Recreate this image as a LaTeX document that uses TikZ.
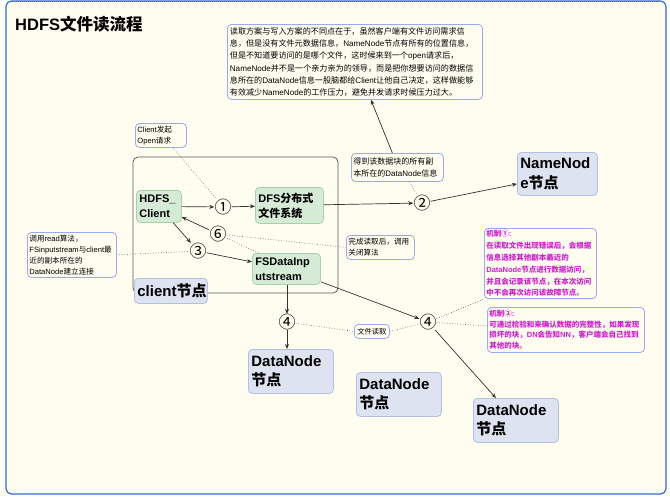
\documentclass[tikz,border=0pt]{standalone}
\usepackage{fontspec}
\setmainfont{Liberation Sans}
\newfontfamily\cjkf{Noto Sans CJK SC}
\newfontfamily\latf{Liberation Sans}
\usetikzlibrary{arrows.meta}
\XeTeXinterchartokenstate=1
\newXeTeXintercharclass\CJKcls
\newcount\cjkcnt
\def\setcjkrange#1#2{\cjkcnt=#1\relax\loop\XeTeXcharclass\cjkcnt=\CJKcls\advance\cjkcnt by 1\relax\ifnum\cjkcnt<#2\relax\repeat}
\setcjkrange{"4E00}{"A000}
\setcjkrange{"3000}{"3040}
\setcjkrange{"FF00}{"FFF0}
\setcjkrange{"2460}{"2500}
\XeTeXinterchartoks 0 \CJKcls = {\cjkf}
\XeTeXinterchartoks 4095 \CJKcls = {\cjkf}
\XeTeXinterchartoks \CJKcls 0 = {\latf}
\XeTeXinterchartoks 4095 0 = {\latf}
\definecolor{bg}{HTML}{FFFDF0}
\definecolor{cmtb}{HTML}{9AA9F2}
\definecolor{grnf}{HTML}{D5EBD6}
\definecolor{grnb}{HTML}{A3D3A6}
\definecolor{bluf}{HTML}{DEE3F1}
\definecolor{blub}{HTML}{B3C0E3}
\definecolor{framec}{HTML}{5A5A5A}
\definecolor{lineg}{HTML}{333333}
\definecolor{dotg}{HTML}{555555}
\definecolor{mag}{HTML}{D21ED2}
\definecolor{outerb}{HTML}{2E6FDB}
\tikzset{
 cmt/.style={draw=cmtb, fill=bg, rounded corners=4pt, line width=0.8pt, inner sep=2pt, align=left, anchor=north west, font=\fontsize{7.6}{10.8}\selectfont},
 grn/.style={draw=grnb, fill=grnf, rounded corners=4pt, line width=0.8pt, inner sep=3pt, align=left, anchor=north west, font=\bfseries\fontsize{11}{15}\selectfont},
 blu/.style={draw=blub, fill=bluf, rounded corners=4pt, line width=0.8pt, inner sep=3pt, align=left, anchor=north west, font=\bfseries\fontsize{15}{19.5}\selectfont},
 num/.style={inner sep=0pt, font=\fontsize{17}{17}\selectfont},
 arr/.style={draw=lineg, line width=0.7pt, -{Stealth[length=5pt,width=4pt]}},
 dotl/.style={draw=dotg, line width=0.6pt, dotted},
}
\begin{document}
\begin{tikzpicture}[x=1pt,y=-1pt]
\useasboundingbox (0,0) rectangle (670,496);
\fill[white] (0,0) rectangle (670,496);
\draw[outerb, line width=1.2pt, fill=bg, rounded corners=6pt] (6,1) rectangle (666,494);
\draw[dotg, line width=1pt, densely dotted] (12,1) -- (660,1);
\node[anchor=base west, font=\bfseries\fontsize{16.5}{18}\selectfont, inner sep=0pt] (title) at (15,30) {HDFS文件读流程};
% client frame
\draw[framec, line width=0.8pt, rounded corners=5pt] (133,157) rectangle (338,293);
% comment boxes
\node[cmt, minimum width=255pt, minimum height=75pt, text width=250pt, font=\fontsize{8.1}{12.3}\selectfont] (top) at (227,24) {读取方案与写入方案的不同点在于，虽然客户端有文件访问需求信\\息，但是没有文件元数据信息，NameNode节点有所有的位置信息，\\但是不知道要访问的是哪个文件，这时候来到一个open请求后，\\NameNode并不是一个亲力亲为的领导，而是把你想要访问的数据信\\息所在的DataNode信息一股脑都给Client让他自己决定，这样做能够\\有效减少NameNode的工作压力，避免并发请求时候压力过大。};
\node[cmt, minimum width=51pt, minimum height=24pt, text width=47pt] (clientc) at (135,123) {Client发起\\Open请求};
\node[cmt, minimum width=92pt, minimum height=28pt, text width=88pt, font=\fontsize{8}{12}\selectfont] (dedao) at (351,153) {得到该数据块的所有副\\本所在的DataNode信息};
\node[cmt, minimum width=68pt, minimum height=24pt, text width=64pt] (wancheng) at (346,235) {完成读取后，调用\\关闭算法};
\node[cmt, minimum width=89pt, minimum height=45pt, text width=85pt] (diaoyong) at (27,232) {调用read算法，\\FSinputstream与client最\\近的副本所在的\\DataNode建立连接};
\node[cmt, minimum width=112pt, minimum height=66pt, text width=108pt, text=mag, font=\bfseries\fontsize{7.5}{11.8}\selectfont] (jz1) at (484,228) {机制①:\\在读取文件出现错误后，会根据\\信息选择其他副本最近的\\DataNode节点进行数据访问，\\并且会记录该节点，在本次访问\\中不会再次访问该故障节点。};
\node[cmt, minimum width=157pt, minimum height=45pt, text width=153pt, text=mag, font=\bfseries\fontsize{7.5}{10.5}\selectfont] (jz2) at (487,307) {机制②:\\可通过检验和来确认数据的完整性，如果发现\\损坏的块，DN会告知NN，客户端会自己找到\\其他的块。};
\node[cmt, minimum width=35pt, minimum height=14pt, align=center, inner sep=1pt, font=\fontsize{7.3}{9}\selectfont] (wjdq) at (354,324) {文件读取};
% green boxes
\node[grn, minimum width=45pt, minimum height=32pt, text width=39pt] (hdfs) at (136,190) {HDFS\_\\Client};
\node[grn, minimum width=68pt, minimum height=36pt, text width=62pt] (dfs) at (255,187) {DFS分布式\\文件系统};
\node[grn, minimum width=68pt, minimum height=31pt, text width=62pt] (fsd) at (252,253) {FSDataInp\\utstream};
% blue boxes
\node[blu, minimum width=80pt, minimum height=43pt, text width=74pt] (nn) at (517,152) {NameNod\\e节点};
\node[blu, minimum width=73pt, minimum height=25pt, text width=67pt, inner sep=2pt] (cnode) at (134,278) {client节点};
\node[blu, minimum width=85pt, minimum height=44pt, text width=79pt] (dn1) at (248,349) {DataNode\\节点};
\node[blu, minimum width=85pt, minimum height=44pt, text width=79pt] (dn2) at (356,372) {DataNode\\节点};
\node[blu, minimum width=85pt, minimum height=44pt, text width=79pt] (dn3) at (473,398) {DataNode\\节点};
% circled numbers
\node[num] (c1) at (223,207) {①};
\node[num] (c2) at (422,203) {②};
\node[num] (c3) at (198,251) {③};
\node[num] (c6) at (218,234) {⑥};
\node[num] (c4l) at (287,322) {④};
\node[num] (c4r) at (428,322) {④};
% connectors
\draw[arr] (hdfs) -- (c1);
\draw[arr] (c1) -- (dfs);
\draw[arr] (dfs) -- (c2);
\draw[arr] (c2) -- ([yshift=-10pt]nn.west);
\draw[arr] ([xshift=-5pt]dedao.north) -- ([xshift=16pt]top.south);
\draw[dotl] ([xshift=12pt]dedao.south) -- (c2);
\draw[dotl] ([xshift=12pt]clientc.south) -- (c1);
\draw[arr] (c6) -- (hdfs);
\draw[arr] (hdfs) -- (c3);
\draw[arr] (c3) -- (fsd);
\draw[dotl] ([xshift=-28pt]fsd.north) -- (c6);
\draw[dotl] (c6) -- (wancheng.west);
\draw[dotl] (diaoyong.east) -- (c3);
\draw[arr] (fsd.south -| c4l) -- (c4l);
\draw[arr] (c4l) -- (c4l |- dn1.north);
\draw[arr] (fsd) -- (c4r);
\draw[arr] (c4r) -- (dn3);
\draw[dotl] (c4l) -- (wjdq.west);
\draw[dotl] (wjdq.east) -- (c4r);
\draw[dotl] (c4r) -- (jz1.south west);
\draw[dotl] (c4r) -- ([yshift=4pt]jz2.west);
\end{tikzpicture}
\end{document}
